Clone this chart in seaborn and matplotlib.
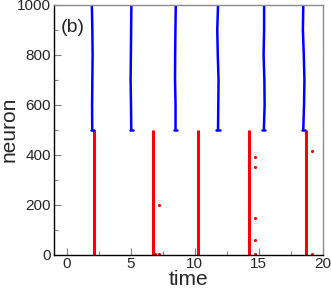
import numpy as np
import pandas as pd
import matplotlib
matplotlib.use("Agg")
import matplotlib.pyplot as plt
import seaborn as sns

# red population (neurons 0-500): burst times
red_times = [2.14, 6.74, 10.24, 14.22, 18.72]
# isolated red spikes
dot_t = [7.19, 14.67, 14.67, 14.67, 14.67, 14.67, 19.14, 19.14, 6.93, 7.19]
dot_n = [200, 390, 350, 145, 60, 3, 415, 3, 3, 3]

# blue population (neurons 500-1000): wavy fronts, time per neuron level
blue_levels = [500, 600, 700, 800, 900, 1000]
blue_fronts = [
    [1.99, 1.98, 2.00, 2.02, 2.00, 1.96],
    [5.04, 5.02, 4.99, 5.01, 5.03, 5.05],
    [8.50, 8.50, 8.46, 8.47, 8.49, 8.52],
    [11.82, 11.84, 11.86, 11.80, 11.76, 11.82],
    [15.40, 15.46, 15.44, 15.38, 15.42, 15.42],
    [18.48, 18.54, 18.57, 18.52, 18.45, 18.48],
]

sns.set_style("ticks")
plt.rcParams["font.family"] = ["Liberation Sans", "DejaVu Sans"]
fig, ax = plt.subplots(figsize=(3.31, 2.91), dpi=100)

for t in red_times:
    ax.plot([t, t], [0, 500], color="red", lw=2.2, solid_capstyle="butt")
sns.scatterplot(x=dot_t, y=dot_n, color="red", s=5, linewidth=0, ax=ax)

for front in blue_fronts:
    df = pd.DataFrame({"t": front, "n": blue_levels})
    sns.lineplot(data=df, x="t", y="n", sort=False, estimator=None,
                 color="blue", lw=1.8, ax=ax)
    ax.plot([front[0] - 0.12, front[0] + 0.12], [500, 500], color="blue", lw=1.8)

ax.set_xlim(-1, 20)
ax.set_ylim(0, 1000)
ax.set_xticks([0, 5, 10, 15, 20])
ax.set_xticks([2.5, 7.5, 12.5, 17.5], minor=True)
ax.set_yticks([0, 200, 400, 600, 800, 1000])
ax.set_yticks([100, 300, 500, 700, 900], minor=True)
ax.tick_params(which="major", direction="in", length=5, width=0.8, color="0.5",
               labelsize=11, pad=2)
ax.tick_params(which="minor", direction="in", length=3, width=0.8, color="0.5")
ax.set_xlabel("time", fontsize=15, labelpad=-1)
ax.set_ylabel("neuron", fontsize=15, labelpad=-1)
ax.text(-0.45, 890, "(b)", fontsize=14)

for s in ["left", "bottom"]:
    ax.spines[s].set_color("black")
for s in ["top", "right"]:
    ax.spines[s].set_visible(True)
    ax.spines[s].set_color("0.55")
for s in ax.spines.values():
    s.set_linewidth(1.0)

fig.subplots_adjust(left=0.163, right=0.975, top=0.983, bottom=0.125)
fig.savefig("out.png", dpi=100)
